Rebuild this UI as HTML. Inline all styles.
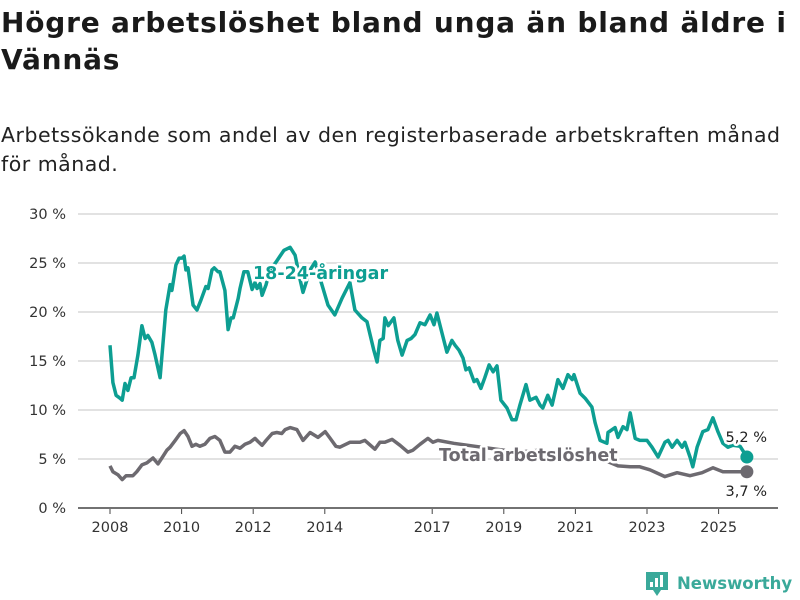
<!DOCTYPE html>
<html><head><meta charset="utf-8">
<style>
body{margin:0;background:#fff;width:800px;height:600px;overflow:hidden;font-family:"DejaVu Sans","Liberation Sans",sans-serif;color:#1a1a1a}
h1{position:absolute;left:1px;top:4px;margin:0;font-size:28px;line-height:37px;font-weight:bold;letter-spacing:0.8px;white-space:nowrap}
.sub{position:absolute;left:1px;top:121px;margin:0;font-size:20.5px;line-height:29px;color:#222;white-space:nowrap;letter-spacing:0.5px}
svg{position:absolute;left:0;top:0;font-family:"DejaVu Sans","Liberation Sans",sans-serif}
</style></head><body>
<h1>Högre arbetslöshet bland unga än bland äldre i<br>Vännäs</h1>
<p class="sub">Arbetssökande som andel av den registerbaserade arbetskraften månad<br>för månad.</p>
<svg id="chart" width="800" height="600"></svg>
<script>
const yTicks=[0,5,10,15,20,25,30];
const xTickYears=[2008,2010,2012,2014,2017,2019,2021,2023,2025];
const youngDates=[2008.00,2008.08,2008.17,2008.28,2008.34,2008.42,2008.50,2008.59,2008.67,2008.78,2008.89,2008.98,2009.06,2009.17,2009.26,2009.40,2009.56,2009.68,2009.73,2009.84,2009.93,2010.01,2010.07,2010.12,2010.18,2010.32,2010.43,2010.54,2010.68,2010.74,2010.85,2010.91,2011.02,2011.07,2011.21,2011.30,2011.38,2011.44,2011.58,2011.63,2011.74,2011.85,2011.97,2012.05,2012.11,2012.19,2012.25,2012.36,2012.47,2012.64,2012.75,2012.86,2013.03,2013.17,2013.31,2013.39,2013.59,2013.73,2013.92,2014.09,2014.28,2014.48,2014.70,2014.84,2015.04,2015.18,2015.37,2015.46,2015.54,2015.63,2015.68,2015.77,2015.93,2016.04,2016.16,2016.30,2016.41,2016.52,2016.66,2016.80,2016.94,2017.05,2017.13,2017.25,2017.41,2017.55,2017.64,2017.75,2017.86,2017.94,2018.03,2018.17,2018.25,2018.36,2018.47,2018.59,2018.70,2018.81,2018.92,2019.09,2019.23,2019.34,2019.45,2019.62,2019.73,2019.90,2020.01,2020.09,2020.23,2020.35,2020.51,2020.65,2020.79,2020.91,2020.96,2021.13,2021.27,2021.46,2021.55,2021.69,2021.88,2021.91,2022.11,2022.19,2022.33,2022.44,2022.53,2022.67,2022.80,2023.00,2023.14,2023.31,2023.50,2023.59,2023.70,2023.84,2023.98,2024.06,2024.20,2024.28,2024.40,2024.56,2024.70,2024.84,2024.98,2025.12,2025.26,2025.40,2025.60,2025.79];
const youngValues=[16.6,12.8,11.5,11.2,11.0,12.7,12.0,13.3,13.3,15.6,18.6,17.3,17.6,16.9,15.6,13.3,20.2,22.8,22.2,24.8,25.5,25.5,25.7,24.3,24.5,20.7,20.2,21.2,22.6,22.4,24.3,24.5,24.1,24.1,22.2,18.2,19.4,19.4,21.4,22.4,24.1,24.1,22.3,23.0,22.4,22.9,21.7,22.8,24.3,25.1,25.7,26.3,26.6,25.8,23.3,22.0,24.3,25.1,22.8,20.7,19.7,21.4,23.0,20.2,19.4,19.0,16.1,14.9,17.1,17.3,19.4,18.6,19.4,17.1,15.6,17.1,17.3,17.7,18.9,18.7,19.7,18.7,19.9,18.2,15.9,17.1,16.6,16.1,15.3,14.1,14.3,12.9,13.1,12.2,13.3,14.6,13.9,14.5,11.0,10.2,9.0,9.0,10.5,12.6,11.0,11.3,10.5,10.2,11.5,10.5,13.1,12.2,13.6,13.1,13.6,11.7,11.2,10.3,8.7,6.9,6.6,7.7,8.2,7.2,8.3,8.0,9.7,7.1,6.9,6.9,6.2,5.2,6.7,6.9,6.2,6.9,6.2,6.7,5.2,4.2,6.2,7.8,8.0,9.2,7.8,6.6,6.2,6.4,6.3,5.2];
const totalDates=[2008.00,2008.08,2008.22,2008.34,2008.45,2008.64,2008.75,2008.89,2009.03,2009.20,2009.34,2009.45,2009.59,2009.68,2009.82,2009.96,2010.07,2010.18,2010.29,2010.40,2010.51,2010.65,2010.79,2010.93,2011.07,2011.21,2011.35,2011.49,2011.63,2011.77,2011.91,2012.05,2012.13,2012.25,2012.36,2012.53,2012.66,2012.80,2012.89,2013.03,2013.22,2013.39,2013.59,2013.81,2014.01,2014.15,2014.31,2014.42,2014.70,2014.98,2015.12,2015.40,2015.54,2015.68,2015.88,2016.10,2016.32,2016.46,2016.66,2016.88,2017.02,2017.16,2017.6,2018.2,2018.8,2019.4,2020.0,2020.6,2021.2,2021.8,2022.19,2022.53,2022.80,2023.08,2023.50,2023.84,2024.20,2024.54,2024.84,2025.12,2025.51,2025.79];
const totalValues=[4.3,3.7,3.4,2.9,3.3,3.3,3.7,4.4,4.6,5.1,4.5,5.1,5.9,6.2,6.9,7.6,7.9,7.3,6.3,6.5,6.3,6.5,7.1,7.3,6.9,5.7,5.7,6.3,6.1,6.5,6.7,7.1,6.8,6.4,6.9,7.6,7.7,7.6,8.0,8.2,8.0,6.9,7.7,7.2,7.8,7.1,6.3,6.2,6.7,6.7,6.9,6.0,6.7,6.7,7.0,6.4,5.7,5.9,6.5,7.1,6.7,6.9,6.6,6.3,6.0,5.7,5.9,5.6,5.2,4.9,4.3,4.2,4.2,3.9,3.2,3.6,3.3,3.6,4.1,3.7,3.7,3.7];

const NS='http://www.w3.org/2000/svg';
const svg=document.getElementById('chart');
const X=y=>110+(y-2008)*35.8;
const Y=v=>508-v*9.8;
function mk(tag,attrs,parent){const e=document.createElementNS(NS,tag);for(const k in attrs)e.setAttribute(k,attrs[k]);(parent||svg).appendChild(e);return e;}

yTicks.forEach(t=>{
  const l=mk('line',{x1:78,x2:778,y1:Y(t),y2:Y(t),stroke:t===0?'#444':'#d9d9d9','stroke-width':1.5});
  
  
  const tx=mk('text',{x:66,y:Y(t)+5,'text-anchor':'end','font-size':14.5,fill:'#333'});
  tx.textContent=t+' %';
  
  
});
xTickYears.forEach(yr=>{
  const tk=mk('line',{x1:X(yr),x2:X(yr),y1:509,y2:514,stroke:'#444','stroke-width':1});
  
  
  const tx=mk('text',{x:X(yr),y:532,'text-anchor':'middle','font-size':14.5,fill:'#333'});
  tx.textContent=yr;
  
  
});
function pathD(ds,vs){return ds.map((d,i)=>(i?'L':'M')+X(d).toFixed(1)+' '+Y(vs[i]).toFixed(1)).join(' ');}
const tl=mk('path',{d:pathD(totalDates,totalValues),fill:'none',stroke:'#6d6a70','stroke-width':3.5,'stroke-linejoin':'round'});


const yl=mk('path',{d:pathD(youngDates,youngValues),fill:'none',stroke:'#0d9e92','stroke-width':3.5,'stroke-linejoin':'round'});



const lt=youngDates.length-1, tt=totalDates.length-1;
const yd=mk('circle',{cx:X(youngDates[lt]),cy:Y(youngValues[lt]),r:6.5,fill:'#0d9e92'});


const td=mk('circle',{cx:X(totalDates[tt]),cy:Y(totalValues[tt]),r:6.5,fill:'#6d6a70'});



function halo(x,y,txt,attrs,name){
  const t=mk('text',Object.assign({x:x,y:y,stroke:'#fff','stroke-width':5,'paint-order':'stroke','stroke-linejoin':'round'},attrs));
  t.textContent=txt;
  
  
}
halo(253,279,'18-24-åringar',{'font-size':17.5,'font-weight':'bold',fill:'#0d9e92'},'youth-series-label');
halo(439,461,'Total arbetslöshet',{'font-size':17.5,'font-weight':'bold',fill:'#6d6a70'},'total-series-label');
halo(767,442,(youngValues[lt]+'').replace('.',',')+' %',{'font-size':14.5,'text-anchor':'end',fill:'#222'},'youth-end-value');
halo(767,496,(totalValues[tt]+'').replace('.',',')+' %',{'font-size':14.5,'text-anchor':'end',fill:'#222'},'total-end-value');

const g=mk('g',{});


mk('path',{d:'M646 572 h22 v18 h-7 l-4 6 l-4 -6 h-7 z',fill:'#3aa99a'},g);
mk('rect',{x:650,y:582,width:3,height:5,fill:'#fff'},g);
mk('rect',{x:655,y:578,width:3,height:9,fill:'#fff'},g);
mk('rect',{x:660,y:575,width:3,height:12,fill:'#fff'},g);
const lg=mk('text',{x:677,y:589,'font-size':16.5,'font-weight':'bold',fill:'#3aa99a'},g);
lg.textContent='Newsworthy';
</script>
</body></html>
